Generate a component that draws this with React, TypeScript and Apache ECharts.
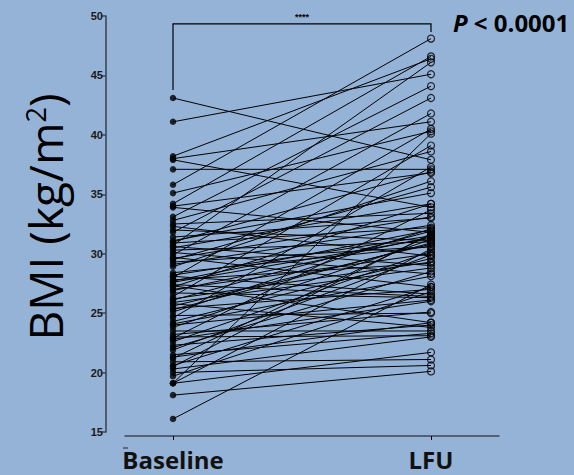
import React, { useEffect, useRef } from 'react';
import * as echarts from 'echarts';

const categories = ['Baseline', 'LFU'];
const yTicks = [15, 20, 25, 30, 35, 40, 45, 50];

const baseline = [
  43.1, 41.1, 38.2, 38.0, 37.9, 37.1, 35.8, 35.1, 34.2, 34.0,
  33.9, 33.1, 32.8, 32.5, 32.3, 31.8, 31.1, 30.9, 30.7, 30.5,
  30.3, 30.1, 29.9, 29.6, 29.3, 29.1, 28.9, 28.2, 28.0, 27.8,
  27.6, 27.4, 27.2, 27.0, 26.4, 26.1, 25.9, 25.6, 25.4, 25.1,
  24.6, 24.3, 24.0, 23.8, 23.2, 22.9, 22.6, 22.3, 22.1, 21.5,
  21.2, 20.9, 20.6, 20.3, 20.0, 19.7, 19.1, 19.1, 19.1, 18.1,
  16.1, 31.0, 30.6, 29.5, 28.1, 27.7, 27.3, 26.9, 26.2, 25.8,
  25.3, 24.8, 24.1, 23.5, 22.8, 21.9, 21.3, 20.5, 29.7, 31.4,
  26.7, 28.4, 32.0, 23.0,
];

const lfu = [
  37.9, 45.1, 46.4, 41.1, 33.9, 37.1, 48.1, 40.3, 46.6, 36.8,
  31.8, 44.1, 38.6, 33.4, 29.8, 43.1, 35.1, 32.2, 46.1, 34.2,
  31.0, 28.3, 41.8, 33.1, 30.6, 32.4, 36.1, 31.5, 40.5, 29.2,
  31.3, 26.4, 34.2, 30.0, 39.1, 31.9, 28.8, 30.8, 27.0, 32.1,
  37.3, 29.6, 26.1, 31.2, 25.1, 33.7, 30.2, 24.0, 28.5, 23.3,
  31.6, 21.1, 27.2, 23.0, 20.6, 26.8, 21.7, 30.4, 40.1, 20.1,
  27.4, 36.9, 29.0, 35.6, 26.6, 32.0, 24.2, 31.4, 29.3, 23.8,
  30.9, 25.0, 28.1, 23.5, 26.0, 29.9, 24.2, 31.7, 27.2, 33.0,
  26.3, 30.6, 31.1, 23.1,
];

const pText = 'P < 0.0001';
const sigText = '****';

const AXIS_COLOR = '#3d4755';
const BG = '#95b3d7';

export default function App() {
  const ref = useRef<HTMLDivElement>(null);

  useEffect(() => {
    const chart = echarts.init(ref.current as HTMLDivElement, null, { renderer: 'svg' });

    const lineSeries = baseline.map((b, i) => ({
      type: 'line',
      xAxisIndex: 0,
      yAxisIndex: 0,
      silent: true,
      symbol: 'none',
      lineStyle: { color: '#000', width: 1 },
      data: [
        [1, b],
        [2, lfu[i]],
      ],
      z: 2,
    }));

    const option: any = {
      animation: false,
      backgroundColor: BG,
      grid: [
        { left: 106, top: 16, width: 393, height: 416 },
        { left: 125, top: 16, width: 374, height: 420 },
      ],
      xAxis: [
        {
          gridIndex: 0,
          type: 'value',
          min: 1 - 67 / 258,
          max: 2 + 68 / 258,
          show: false,
        },
        {
          gridIndex: 1,
          type: 'value',
          min: 1 - 48 / 258,
          max: 2 + 68 / 258,
          splitLine: { show: false },
          axisLine: { show: true, onZero: false, lineStyle: { color: AXIS_COLOR, width: 1.5 } },
          axisTick: {
            show: true,
            customValues: [1, 2],
            length: 4,
            lineStyle: { color: '#000', width: 1 },
          },
          axisLabel: {
            customValues: [1, 2],
            formatter: (v: number) => categories[Math.round(v) - 1] || '',
            fontFamily: 'Open Sans',
            fontWeight: 'bold',
            fontSize: 24,
            color: '#111',
            margin: 11,
          },
        },
      ],
      yAxis: [
        {
          gridIndex: 0,
          type: 'value',
          min: yTicks[0],
          max: yTicks[yTicks.length - 1],
          interval: 5,
          splitLine: { show: false },
          axisLine: { show: true, lineStyle: { color: AXIS_COLOR, width: 1.6 } },
          axisTick: { show: true, length: 5, lineStyle: { color: AXIS_COLOR, width: 1.5 } },
          axisLabel: {
            fontFamily: 'Liberation Sans',
            fontWeight: 'bold',
            fontSize: 11,
            color: '#1a1a1a',
            margin: 3,
          },
        },
        { gridIndex: 1, type: 'value', min: 0, max: 1, show: false },
      ],
      series: [
        ...lineSeries,
        {
          type: 'scatter',
          xAxisIndex: 0,
          yAxisIndex: 0,
          symbol: 'circle',
          symbolSize: 6.5,
          itemStyle: { color: '#000' },
          data: baseline.map((v) => [1, v]),
          z: 3,
        },
        {
          type: 'scatter',
          xAxisIndex: 0,
          yAxisIndex: 0,
          symbol: 'circle',
          symbolSize: 7,
          itemStyle: { color: 'rgba(0,0,0,0)', borderColor: '#000', borderWidth: 1.2 },
          data: lfu.map((v) => [2, v]),
          z: 3,
        },
      ],
    };

    chart.setOption(option);

    const px = (x: number, y: number) =>
      chart.convertToPixel({ xAxisIndex: 0, yAxisIndex: 0 }, [x, y]) as number[];
    const tl = px(1, 43.77);
    const tTop = px(1, 49.33);
    const tr = px(2, 48.65);
    const topY = tTop[1];

    chart.setOption({
      graphic: [
        {
          type: 'polyline',
          shape: {
            points: [
              [tl[0], tl[1]],
              [tl[0], topY],
              [tr[0], topY],
              [tr[0], tr[1]],
            ],
          },
          style: { stroke: '#000', lineWidth: 1.2, fill: 'none' },
          z: 10,
        },
        {
          type: 'text',
          x: (tl[0] + tr[0]) / 2,
          y: topY - 2,
          style: {
            text: sigText,
            textAlign: 'center',
            textVerticalAlign: 'bottom',
            fontFamily: 'Liberation Sans',
            fontWeight: 'bold',
            fontSize: 9,
            fill: '#000',
          },
          z: 10,
        },
        {
          type: 'text',
          x: 453,
          y: 22,
          style: {
            text: '{i|P}{n|' + pText.slice(1) + '}',
            textAlign: 'left',
            textVerticalAlign: 'middle',
            rich: {
              i: {
                fontFamily: 'Open Sans',
                fontWeight: 'bold',
                fontStyle: 'italic',
                fontSize: 24,
                fill: '#000',
              },
              n: {
                fontFamily: 'Open Sans',
                fontWeight: 'bold',
                fontSize: 24,
                fill: '#000',
              },
            },
          },
          z: 10,
        },
        {
          type: 'text',
          x: 45,
          y: 217,
          rotation: Math.PI / 2,
          style: {
            text: '{m|BMI (kg/m}{s|2}{m|)}',
            textAlign: 'center',
            textVerticalAlign: 'middle',
            rich: {
              m: {
                fontFamily: 'Open Sans',
                fontSize: 46,
                fill: '#000',
                verticalAlign: 'bottom',
              },
              s: {
                fontFamily: 'Open Sans',
                fontSize: 27,
                fill: '#000',
                verticalAlign: 'top',
              },
            },
          },
          z: 10,
        },
        {
          type: 'line',
          shape: { x1: 123, y1: 448, x2: 128, y2: 448 },
          style: { stroke: '#222', lineWidth: 1 },
        },
      ],
    });

    return () => chart.dispose();
  }, []);

  return (
    <div
      ref={ref}
      style={{ position: 'absolute', left: 0, top: 0, width: 574, height: 475, background: BG }}
    />
  );
}
